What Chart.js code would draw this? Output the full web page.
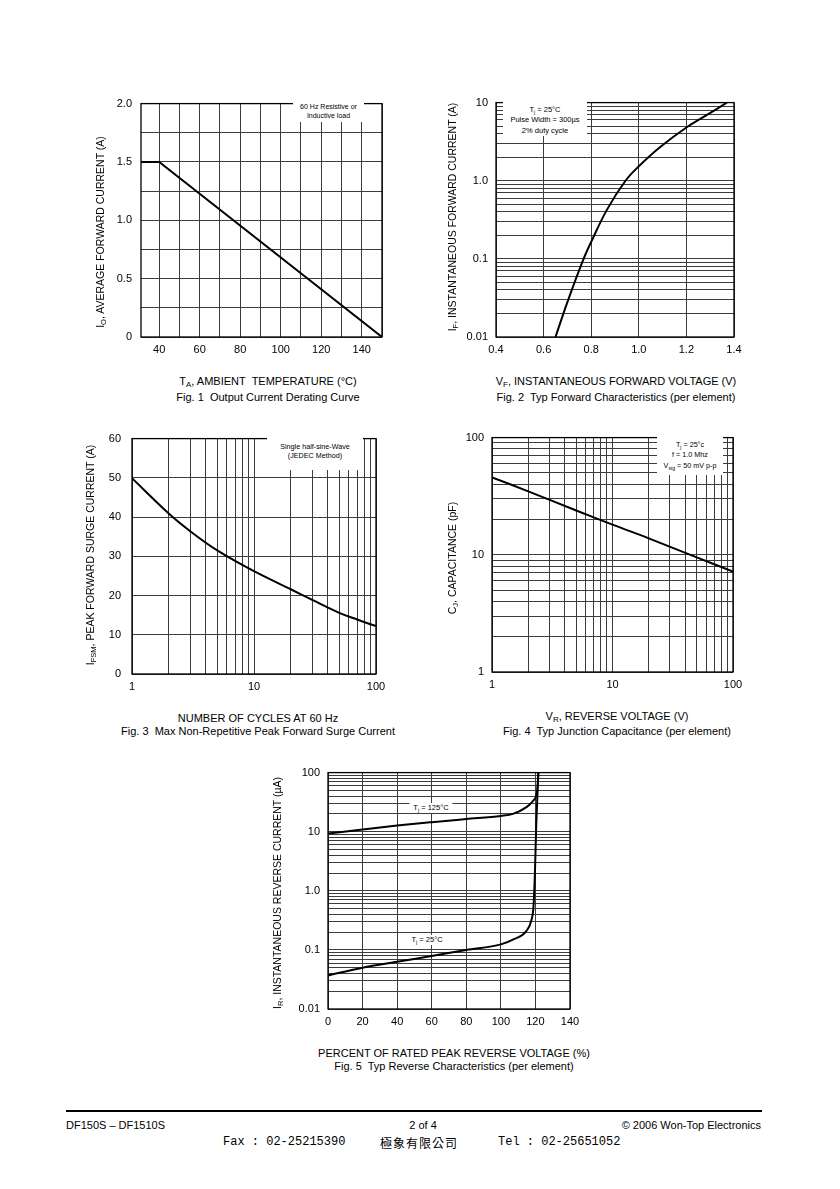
<!DOCTYPE html>
<html>
<head>
<meta charset="utf-8">
<script src="https://cdn.jsdelivr.net/npm/chart.js@4.4.1/dist/chart.umd.min.js"></script>
<style>
  body { margin: 0; background: #fff; }
  #page { position: relative; width: 840px; height: 1189px; overflow: hidden; background: #fff;
          font-family: "Liberation Sans", Arial, sans-serif; color: #000; }
  #page canvas { position: absolute; }
  .xt { position: absolute; white-space: nowrap; transform: translate(-50%, -50%); font-size: 11px; line-height: 13px; }
  .yt { position: absolute; white-space: nowrap; transform: translate(-50%, -50%) rotate(-90deg); font-size: 10.5px; line-height: 12px; }
  .note { position: absolute; z-index: 2; background: #fff; text-align: center; box-sizing: border-box; white-space: nowrap; }
  .lbl { position: absolute; z-index: 2; background: #fff; white-space: nowrap; transform: translate(-50%, -50%);
         font-size: 7.5px; line-height: 10px; padding: 0 4px; }
  sub { font-size: 0.72em; vertical-align: -0.3em; line-height: 0; }
  .foot { position: absolute; white-space: nowrap; transform: translateY(-50%); font-size: 11px; line-height: 13px; }
  .mono { font-family: "Liberation Mono", monospace; font-size: 12px; }
  .cjk { font-family: "Noto Sans CJK TC", sans-serif; font-size: 12px; letter-spacing: 1px; }
</style>
</head>
<body>
<div id="page">
  <!-- Fig. 1 -->
  <div class="yt" style="left:100px;top:232px">I<sub>O</sub>, AVERAGE FORWARD CURRENT (A)</div>
  <div class="xt" style="left:268px;top:381px">T<sub>A</sub>, AMBIENT&nbsp; TEMPERATURE (°C)</div>
  <div class="xt" style="left:268px;top:397px">Fig. 1&nbsp; Output Current Derating Curve</div>
  <div class="note" style="left:293px;top:99px;width:71px;height:23px;padding-top:4px;font-size:7px;line-height:8.5px">60 Hz Resistive or<br>Inductive load</div>

  <!-- Fig. 2 -->
  <div class="yt" style="left:452px;top:217px">I<sub>F</sub>, INSTANTANEOUS FORWARD CURRENT (A)</div>
  <div class="xt" style="left:616px;top:381px">V<sub>F</sub>, INSTANTANEOUS FORWARD VOLTAGE (V)</div>
  <div class="xt" style="left:616px;top:397px">Fig. 2&nbsp; Typ Forward Characteristics (per element)</div>
  <div class="note" style="left:503px;top:99px;width:84px;height:37px;padding-top:5.75px;font-size:7.5px;line-height:10.5px">T<sub>j</sub> = 25°C<br>Pulse Width = 300µs<br>2% duty cycle</div>

  <!-- Fig. 3 -->
  <div class="yt" style="left:90px;top:555px">I<sub>FSM</sub>, PEAK FORWARD SURGE CURRENT (A)</div>
  <div class="xt" style="left:258px;top:718px">NUMBER OF CYCLES AT 60 Hz</div>
  <div class="xt" style="left:258px;top:731px">Fig. 3&nbsp; Max Non-Repetitive Peak Forward Surge Current</div>
  <div class="note" style="left:267px;top:432px;width:96px;height:38px;padding-top:9.5px;font-size:7.2px;line-height:9px">Single half-sine-Wave<br>(JEDEC Method)</div>

  <!-- Fig. 4 -->
  <div class="yt" style="left:452px;top:558px">C<sub>J</sub>, CAPACITANCE (pF)</div>
  <div class="xt" style="left:617px;top:716px">V<sub>R</sub>, REVERSE VOLTAGE (V)</div>
  <div class="xt" style="left:617px;top:731px">Fig. 4&nbsp; Typ Junction Capacitance (per element)</div>
  <div class="note" style="left:657px;top:435px;width:66px;height:40px;padding-top:4.75px;font-size:7.2px;line-height:10.5px">T<sub>j</sub> = 25°c<br>f = 1.0 Mhz<br>V<sub>sig</sub> = 50 mV p-p</div>

  <!-- Fig. 5 -->
  <div class="yt" style="left:277px;top:893px">I<sub>R</sub>, INSTANTANEOUS REVERSE CURRENT (µA)</div>
  <div class="xt" style="left:454px;top:1053px">PERCENT OF RATED PEAK REVERSE VOLTAGE (%)</div>
  <div class="xt" style="left:454px;top:1066px">Fig. 5&nbsp; Typ Reverse Characteristics (per element)</div>
  <div class="lbl" style="left:431px;top:808px">T<sub>j</sub> = 125°C</div>
  <div class="lbl" style="left:427px;top:940px">T<sub>j</sub> = 25°C</div>

  <!-- footer -->
  <div style="position:absolute;left:66px;top:1110px;width:696px;height:2px;background:#000"></div>
  <div class="foot" style="left:66px;top:1125px">DF150S – DF1510S</div>
  <div class="foot" style="left:423px;top:1125px;transform:translate(-50%,-50%)">2 of 4</div>
  <div class="foot" style="right:79px;top:1125px">© 2006 Won-Top Electronics</div>
  <div class="foot mono" style="left:223px;top:1142px">Fax : 02-25215390</div>
  <div class="foot cjk" style="left:380px;top:1142px">極象有限公司</div>
  <div class="foot mono" style="left:498px;top:1142px">Tel : 02-25651052</div>
</div>

<script>
// Fig. 1  Output Current Derating Curve
const fig1Temp = [31, 40, 150];
const fig1Current = [1.5, 1.5, 0];
const fig1XGrid = [40, 50, 60, 70, 80, 90, 100, 110, 120, 130, 140, 150];
const fig1XTicks = [40, 60, 80, 100, 120, 140];
const fig1XLabels = ['40', '60', '80', '100', '120', '140'];
const fig1YGrid = [0, 0.25, 0.5, 0.75, 1, 1.25, 1.5, 1.75, 2];
const fig1YTicks = [0, 0.5, 1, 1.5, 2];
const fig1YLabels = ['0', '0.5', '1.0', '1.5', '2.0'];

// Fig. 2  Typ Forward Characteristics
const fig2Voltage = [0.65, 0.70, 0.765, 0.80, 0.867, 0.944, 1.00, 1.09, 1.20, 1.29, 1.37];
const fig2Current = [0.01, 0.028, 0.095, 0.165, 0.43, 1.0, 1.53, 2.7, 4.8, 7.05, 10];
const fig2XGrid = [0.4, 0.6, 0.8, 1.0, 1.2, 1.4];
const fig2XLabels = ['0.4', '0.6', '0.8', '1.0', '1.2', '1.4'];
const fig2YTicks = [0.01, 0.1, 1, 10];
const fig2YLabels = ['0.01', '0.1', '1.0', '10'];

// Fig. 3  Max Non-Repetitive Peak Forward Surge Current
const fig3Cycles = [1, 2, 3, 5, 10, 20, 30, 50, 70, 100];
const fig3Surge = [49.9, 40.9, 36.4, 31.5, 26.2, 21.6, 18.9, 15.6, 13.9, 12.2];
const fig3XTicks = [1, 10, 100];
const fig3XLabels = ['1', '10', '100'];
const fig3YGrid = [0, 10, 20, 30, 40, 50, 60];
const fig3YLabels = ['0', '10', '20', '30', '40', '50', '60'];

// Fig. 4  Typ Junction Capacitance
const fig4Voltage = [1, 2, 5, 10, 20, 50, 100];
const fig4Capacitance = [45.8, 34.8, 23.9, 18.1, 13.8, 9.5, 7.2];
const fig4Ticks = [1, 10, 100];
const fig4Labels = ['1', '10', '100'];

// Fig. 5  Typ Reverse Characteristics
const fig5Pct125 = [0, 20, 40, 60, 80, 100, 107, 114.8, 118.7, 121, 121.7];
const fig5Ir125 = [9.3, 10.9, 12.7, 14.5, 16.4, 18.5, 20, 26, 33.4, 49, 100];
const fig5Pct25 = [0, 20, 40, 60, 80, 100, 107, 114.8, 117.7, 118.9, 119.7, 120.5, 121.7];
const fig5Ir25 = [0.037, 0.05, 0.063, 0.079, 0.1, 0.124, 0.149, 0.21, 0.32, 0.55, 2.0, 13.7, 100];
const fig5XGrid = [0, 20, 40, 60, 80, 100, 120, 140];
const fig5XLabels = ['0', '20', '40', '60', '80', '100', '120', '140'];
const fig5YTicks = [0.01, 0.1, 1, 10, 100];
const fig5YLabels = ['0.01', '0.1', '1.0', '10', '100'];

const GRID = '#3c3c3c';
const TICK_FONT = { family: 'Liberation Sans', size: 11 };
const PAD_L = 50, PAD_T = 10, PAD_R = 22, PAD_B = 26;

// 1..9 x 10^n lines of a log paper
function logGrid(min, max) {
  const out = [];
  for (let e = Math.round(Math.log10(min)); e < Math.round(Math.log10(max)); e++) {
    for (let m = 1; m < 10; m++) out.push(+(m * Math.pow(10, e)).toPrecision(6));
  }
  out.push(max);
  return out;
}

function labeler(vals, texts) {
  return v => {
    const i = vals.findIndex(t => Math.abs(t - v) < 1e-6 * Math.max(1, Math.abs(t)));
    return i < 0 ? '' : texts[i];
  };
}

function axis(dir, type, min, max, grid, vals, texts, pad) {
  return {
    type, min, max,
    afterBuildTicks: s => { s.ticks = grid.map(v => ({ value: v })); },
    afterFit: s => { if (dir === 'x') s.height = PAD_B; else s.width = PAD_L; },
    grid: { color: GRID, lineWidth: 1, drawTicks: false },
    border: { display: false },
    ticks: {
      autoSkip: false, maxRotation: 0, minRotation: 0, color: '#000', font: TICK_FONT,
      padding: pad, callback: labeler(vals, texts)
    }
  };
}

const frame = {
  id: 'frame',
  afterDraw(c) {
    const a = c.chartArea, g = c.ctx;
    g.save();
    g.strokeStyle = '#000';
    g.lineWidth = 1.3;
    g.strokeRect(a.left, a.top, a.right - a.left, a.bottom - a.top);
    g.restore();
  }
};

// mode: 'line' straight, 'spline' bezier, 'knee' monotone
function series(xs, ys, mode) {
  return {
    data: xs.map((x, i) => ({ x, y: ys[i] })),
    borderColor: '#000', borderWidth: 2, pointRadius: 0, fill: false,
    cubicInterpolationMode: mode === 'knee' ? 'monotone' : 'default',
    tension: mode === 'spline' ? 0.4 : 0
  };
}

const page = document.getElementById('page');
function makeChart(box, xScale, yScale, datasets) {
  const cv = document.createElement('canvas');
  const w = box.w + PAD_L + PAD_R, h = box.h + PAD_T + PAD_B;
  cv.width = w; cv.height = h;
  cv.style.left = (box.x - PAD_L) + 'px';
  cv.style.top = (box.y - PAD_T) + 'px';
  cv.style.width = w + 'px';
  cv.style.height = h + 'px';
  page.insertBefore(cv, page.firstChild);
  new Chart(cv, {
    type: 'line',
    data: { datasets },
    options: {
      responsive: false, animation: false, devicePixelRatio: 1,
      layout: { padding: { left: 0, top: PAD_T, right: PAD_R, bottom: 0 } },
      plugins: { legend: { display: false }, tooltip: { enabled: false } },
      scales: { x: xScale, y: yScale }
    },
    plugins: [frame]
  });
}

makeChart({ x: 141, y: 98, w: 241, h: 239 },
  axis('x', 'linear', 31, 150, fig1XGrid, fig1XTicks, fig1XLabels, 6),
  axis('y', 'linear', 0, 2, fig1YGrid, fig1YTicks, fig1YLabels, 9),
  [series(fig1Temp, fig1Current, 'line')]);

makeChart({ x: 496, y: 98, w: 238, h: 239 },
  axis('x', 'linear', 0.4, 1.4, fig2XGrid, fig2XGrid, fig2XLabels, 6),
  axis('y', 'logarithmic', 0.01, 10, logGrid(0.01, 10), fig2YTicks, fig2YLabels, 8),
  [series(fig2Voltage, fig2Current, 'spline')]);

makeChart({ x: 132, y: 431, w: 244, h: 243 },
  axis('x', 'logarithmic', 1, 100, logGrid(1, 100), fig3XTicks, fig3XLabels, 6),
  axis('y', 'linear', 0, 60, fig3YGrid, fig3YGrid, fig3YLabels, 11),
  [series(fig3Cycles, fig3Surge, 'spline')]);

makeChart({ x: 492, y: 433, w: 241, h: 239 },
  axis('x', 'logarithmic', 1, 100, logGrid(1, 100), fig4Ticks, fig4Labels, 6),
  axis('y', 'logarithmic', 1, 100, logGrid(1, 100), fig4Ticks, fig4Labels, 8),
  [series(fig4Voltage, fig4Capacitance, 'spline')]);

makeChart({ x: 328, y: 768, w: 242, h: 241 },
  axis('x', 'linear', 0, 140, fig5XGrid, fig5XGrid, fig5XLabels, 6),
  axis('y', 'logarithmic', 0.01, 100, logGrid(0.01, 100), fig5YTicks, fig5YLabels, 8),
  [series(fig5Pct125, fig5Ir125, 'knee'), series(fig5Pct25, fig5Ir25, 'knee')]);
</script>
</body>
</html>
